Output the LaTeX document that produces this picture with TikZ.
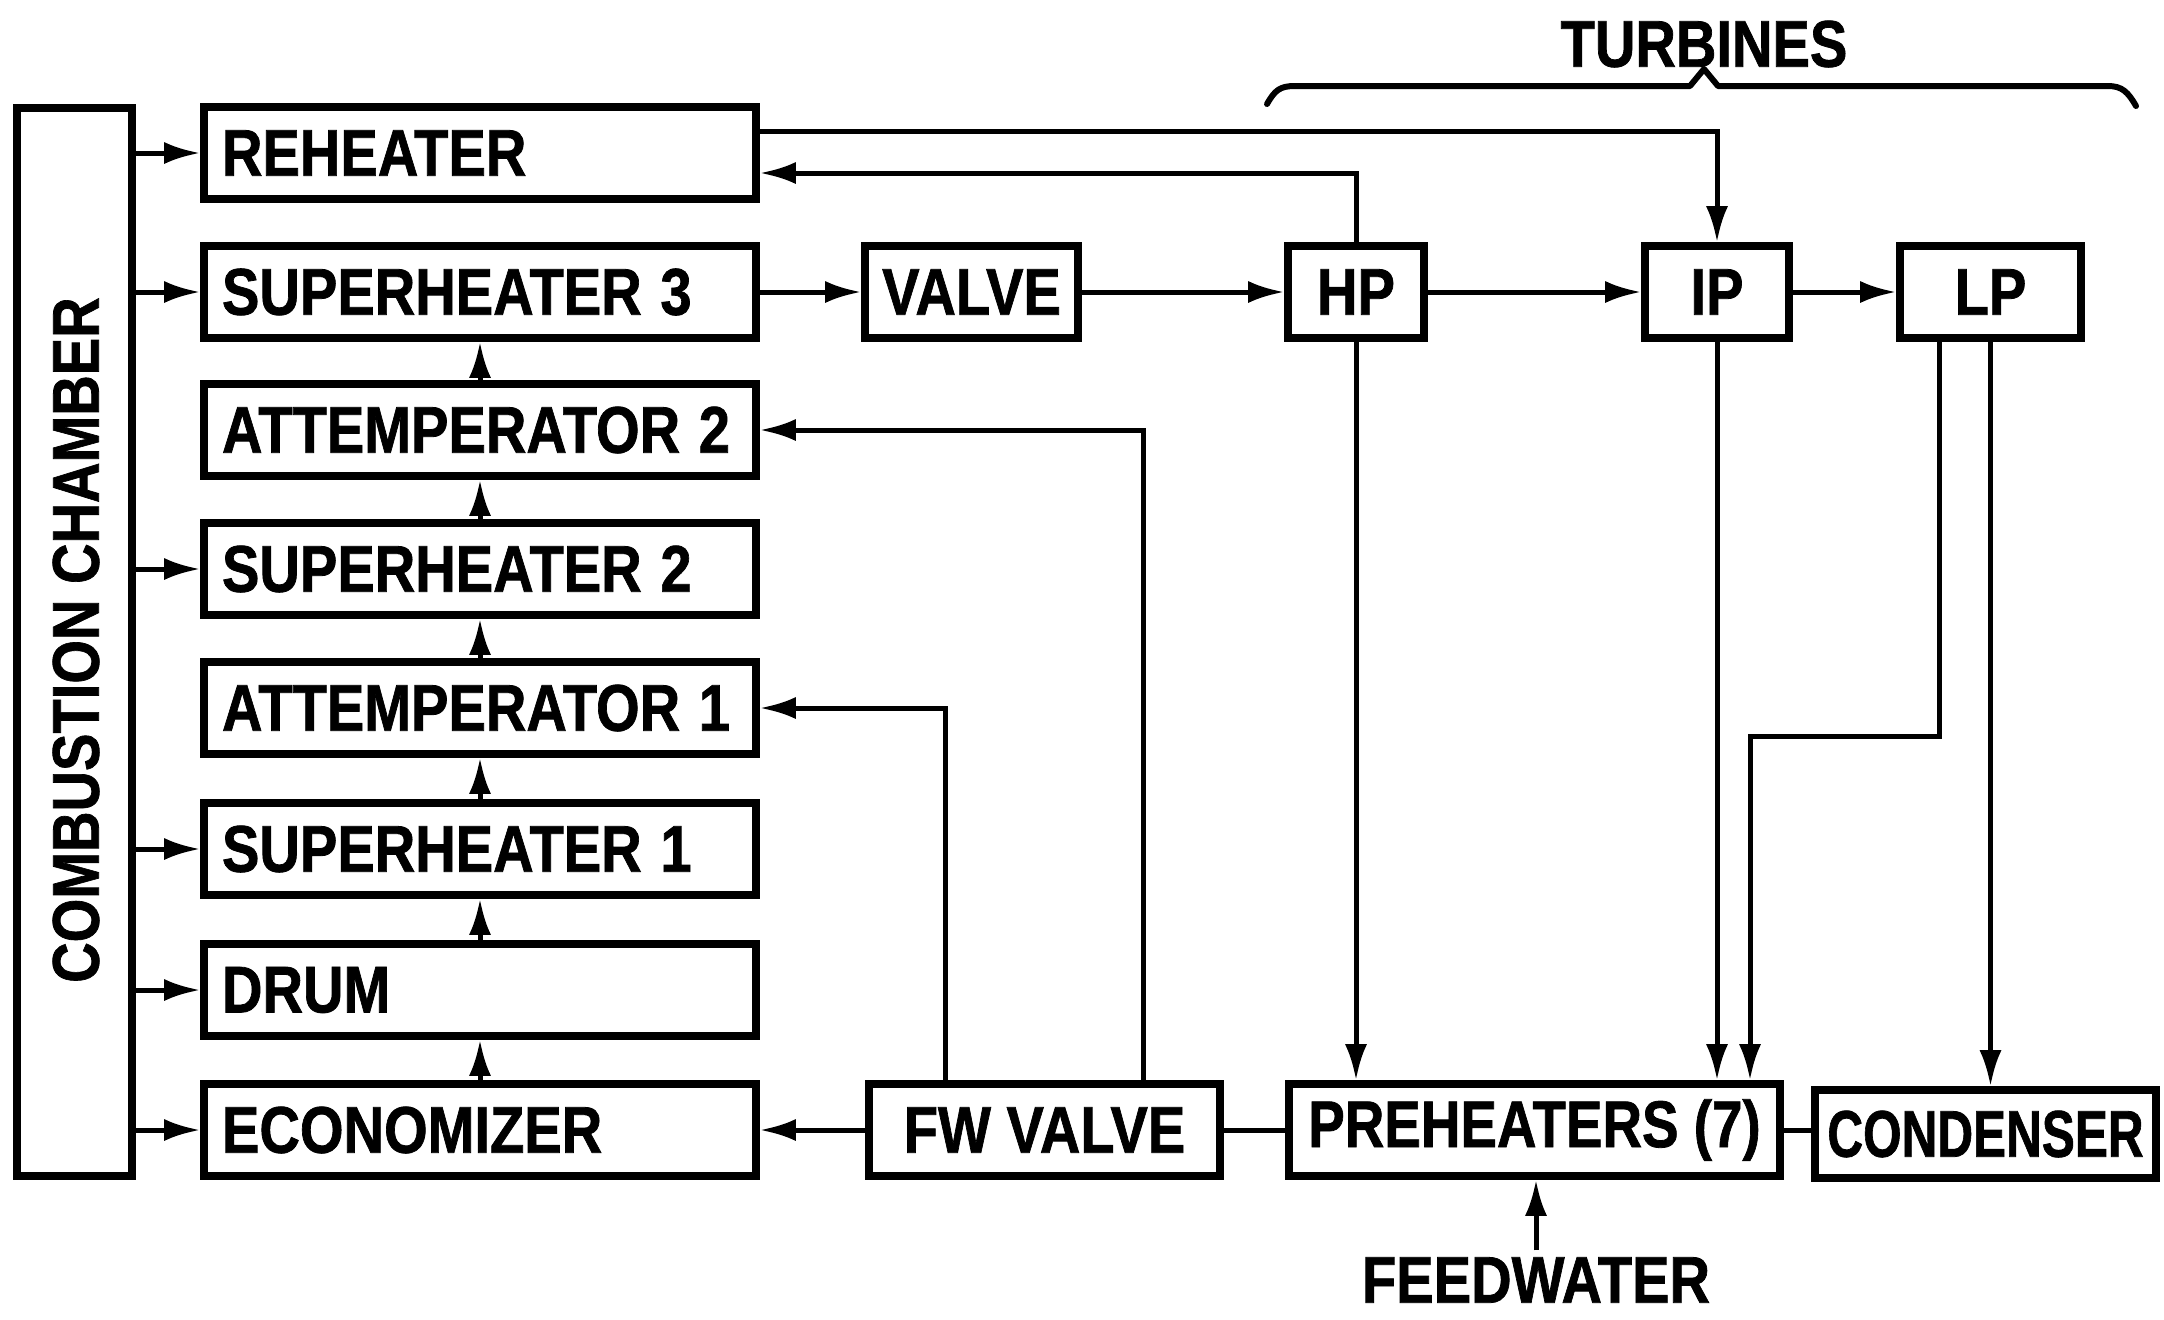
\documentclass[tikz,border=0pt]{standalone}
\usepackage{fontspec}
\setmainfont{Liberation Sans}
\newfontfamily\heavy[FakeBold=1.2]{Liberation Sans Bold}
\usepackage{graphicx}
\usetikzlibrary{arrows.meta}
\newcommand\lbl[2][0.85]{\scalebox{#1}[1]{#2}}
\begin{document}
\begin{tikzpicture}[x=0.5pt,y=-0.5pt,
  every node/.style={font=\fontsize{33}{33}\heavy},
  colbox/.style={draw, line width=3.8pt, minimum width=276pt, minimum height=46pt,
    text width=258pt, align=left, inner xsep=9pt, inner ysep=0pt},
  cbox/.style={draw, line width=3.8pt, minimum height=46pt, inner sep=0pt},
  conn/.style={line width=2.5pt, -{Latex[length=18pt,width=11pt]}},
  plainline/.style={line width=2.5pt},
  bracel/.style={line width=3pt, line cap=round, line join=round},
]
\fill[white] (0,0) rectangle (2164,1319);
\useasboundingbox (0,0) rectangle (2164,1319);

% combustion chamber
\node[draw, line width=3.8pt, minimum width=57.5pt, minimum height=534pt, inner sep=0pt] (comb) at (74.5,642) {};
\node[rotate=90] (combt) at (76,640) {\lbl{COMBUSTION CHAMBER}};

% column boxes
\node[colbox] (rh)   at (480,153)  {\lbl{REHEATER}};
\node[colbox] (sh3)  at (480,292)  {\lbl{SUPERHEATER 3}};
\node[colbox] (att2) at (480,430)  {\lbl{ATTEMPERATOR 2}};
\node[colbox] (sh2)  at (480,569)  {\lbl{SUPERHEATER 2}};
\node[colbox] (att1) at (480,708)  {\lbl{ATTEMPERATOR 1}};
\node[colbox] (sh1)  at (480,849)  {\lbl{SUPERHEATER 1}};
\node[colbox] (drum) at (480,990)  {\lbl{DRUM}};
\node[colbox] (econ) at (480,1130) {\lbl{ECONOMIZER}};

% other boxes
\node[cbox, minimum width=106.5pt] (valve) at (971.5,292) {\lbl{VALVE}};
\node[cbox, minimum width=68pt] (hp) at (1356,292) {\lbl{HP}};
\node[cbox, minimum width=72pt] (ip) at (1717,292) {\lbl{IP}};
\node[cbox, minimum width=90.5pt] (lp) at (1990.5,292) {\lbl{LP}};
\node[cbox, minimum width=175.5pt] (fwv) at (1044.5,1130) {\lbl{FW VALVE}};
\node[cbox, minimum width=245.5pt] (pre) at (1534.5,1130) {\lbl[0.83]{PREHEATERS (7)}};
\node[cbox, minimum width=170.5pt, minimum height=44pt] (cond) at (1985.5,1134) {\lbl[0.75]{CONDENSER}};

% texts
\node (turb) at (1704,44) {\lbl{TURBINES}};
\node (feed) at (1536,1280) {\lbl{FEEDWATER}};

% brace
\draw[bracel] (1267,104) .. controls (1275,90) and (1280,86) .. (1295,86)
  -- (1690,86) -- (1704,69) -- (1718,86) -- (2108,86)
  .. controls (2122,86) and (2128,92) .. (2136,106);

% combustion chamber stubs
\foreach \b in {rh,sh3,sh2,sh1,drum,econ}{
  \draw[conn] (comb.east |- \b.west) -- (\b.west);
}

% column upward arrows
\draw[conn] (econ.north) -- (drum.south);
\draw[conn] (drum.north) -- (sh1.south);
\draw[conn] (sh1.north) -- (att1.south);
\draw[conn] (att1.north) -- (sh2.south);
\draw[conn] (sh2.north) -- (att2.south);
\draw[conn] (att2.north) -- (sh3.south);

% main steam path
\draw[conn] (sh3.east) -- (valve.west);
\draw[conn] (valve.east) -- (hp.west);
\draw[conn] (hp.east) -- (ip.west);
\draw[conn] (ip.east) -- (lp.west);

% reheat loop
\draw[conn] ([yshift=11pt]rh.east) -| (ip.north);
\draw[conn] (hp.north) |- ([yshift=-10pt]rh.east);

% feedwater valve
\draw[conn] (fwv.west) -- (econ.east);
\draw[conn] ([xshift=-49.75pt]fwv.north) |- (att1.east);
\draw[conn] ([xshift=49.25pt]fwv.north) |- (att2.east);
\draw[plainline] (fwv.east) -- (pre.west);
\draw[plainline] (pre.east) -- (pre.east -| cond.west);

% extraction lines
\draw[conn] (hp.south) -- (hp.south |- pre.north);
\draw[conn] (ip.south) -- (ip.south |- pre.north);
\coordinate (jog) at (1750,736);
\draw[conn] ([xshift=-25.75pt]lp.south) |- (jog) -- (jog |- pre.north);
\draw[conn] (lp.south) -- (lp.south |- cond.north);

% feedwater in
\draw[conn] (feed.north) -- (feed.north |- pre.south);
\end{tikzpicture}
\end{document}
